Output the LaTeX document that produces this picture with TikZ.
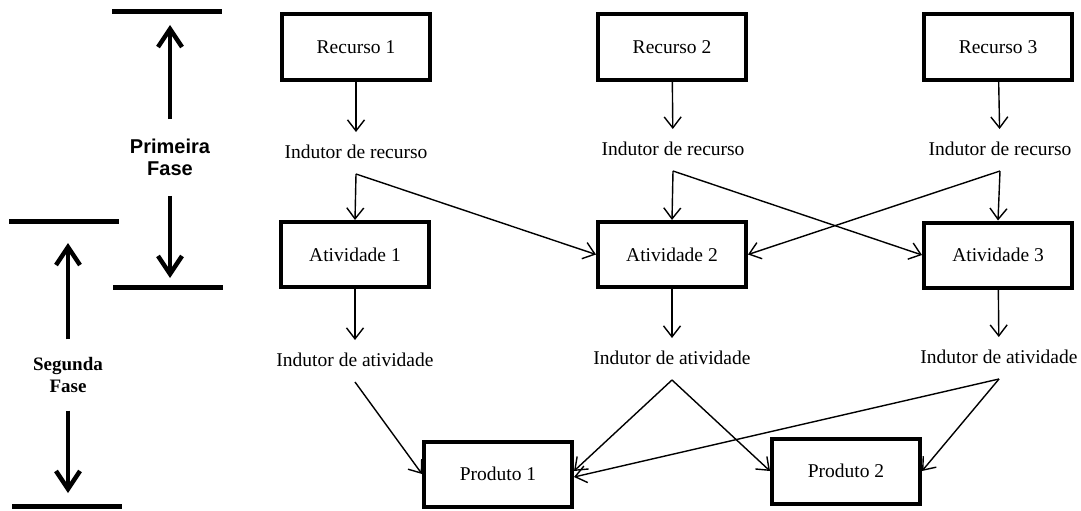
\documentclass[tikz,border=0pt]{standalone}
\usepackage{fontspec}
\setmainfont{Liberation Serif}
\newfontfamily\fasesans{Liberation Sans}
\usepackage{tikz}
\usetikzlibrary{positioning,arrows.meta}

\begin{document}
\begin{tikzpicture}[x=1pt, y=-1pt,
  box/.style={draw, line width=4pt, minimum width=148pt, minimum height=65pt, font=\fontsize{19.5}{22}\selectfont},
  driver/.style={inner sep=0pt, outer ysep=12pt, text height=14pt, text depth=4pt, font=\fontsize{19.5}{22}\selectfont},
  phase/.style={align=center, inner sep=0pt, outer ysep=20pt},
  bar/.style={line width=5pt},
  arrow/.style={-{Straight Barb[length=11pt,width=17pt]}, line width=1.4pt},
  bigarrow/.style={-{Straight Barb[length=18pt,width=24pt]}, line width=4.5pt}
]
\useasboundingbox (0,0) rectangle (1081,511);

\node[box] (rec1) at (356,47) {Recurso 1};
\node[box] (rec2) at (672,47) {Recurso 2};
\node[box] (rec3) at (998,47) {Recurso 3};

\node[driver] (indr1) at (356,153) {Indutor de recurso};
\node[driver] (indr2) at (673,150) {Indutor de recurso};
\node[driver] (indr3) at (1000,150) {Indutor de recurso};

\node[box] (atv1) at (355,254.5) {Atividade 1};
\node[box] (atv2) at (672,254.5) {Atividade 2};
\node[box] (atv3) at (998,255) {Atividade 3};

\node[driver] (inda1) at (355,361) {Indutor de atividade};
\node[driver] (inda2) at (672,359) {Indutor de atividade};
\node[driver] (inda3) at (999,358) {Indutor de atividade};

\node[box] (prod1) at (498,474) {Produto 1};
\node[box] (prod2) at (846,471) {Produto 2};

\node[phase, font=\fasesans\bfseries\fontsize{20}{22}\selectfont] (fase1) at (170,157.5) {Primeira\\Fase};
\node[phase, font=\bfseries\fontsize{19}{22}\selectfont, outer ysep=18pt] (fase2) at (68,375) {Segunda\\Fase};

\coordinate (f1top) at (170,12);
\coordinate (f1bot) at (170,287);
\coordinate (f2top) at (68,221);
\coordinate (f2bot) at (68,506);

\draw[bar] (112,12) -- (222,12);
\draw[bar] (113,287) -- (223,287);
\draw[bar] (9,221) -- (119,221);
\draw[bar] (12,506) -- (122,506);

\draw[bigarrow, shorten >=13pt] (fase1) -- (f1top);
\draw[bigarrow, shorten >=9pt] (fase1) -- (f1bot);
\draw[bigarrow, shorten >=22pt] (fase2) -- (f2top);
\draw[bigarrow, shorten >=13pt] (fase2) -- (f2bot);

\draw[arrow] (rec1) -- (indr1);
\draw[arrow] (rec2) -- (indr2);
\draw[arrow] (rec3) -- (indr3);

\draw[arrow] (indr1.south) -- (atv1.north);
\draw[arrow] (indr1.south) -- (atv2.west);
\draw[arrow] (indr2.south) -- (atv2.north);
\draw[arrow] (indr2.south) -- (atv3.west);
\draw[arrow] (indr3.south) -- (atv3.north);
\draw[arrow] (indr3.south) -- (atv2.east);

\draw[arrow] (atv1) -- (inda1);
\draw[arrow] (atv2) -- (inda2);
\draw[arrow] (atv3) -- (inda3);

\draw[arrow] (inda1.south) -- (prod1.west);
\draw[arrow] (inda2.south) -- ([yshift=3pt]prod1.east);
\draw[arrow] (inda2.south) -- (prod2.west);
\draw[arrow] (inda3.south) -- ([yshift=-3pt]prod1.east);
\draw[arrow] (inda3.south) -- (prod2.east);
\end{tikzpicture}
\end{document}
